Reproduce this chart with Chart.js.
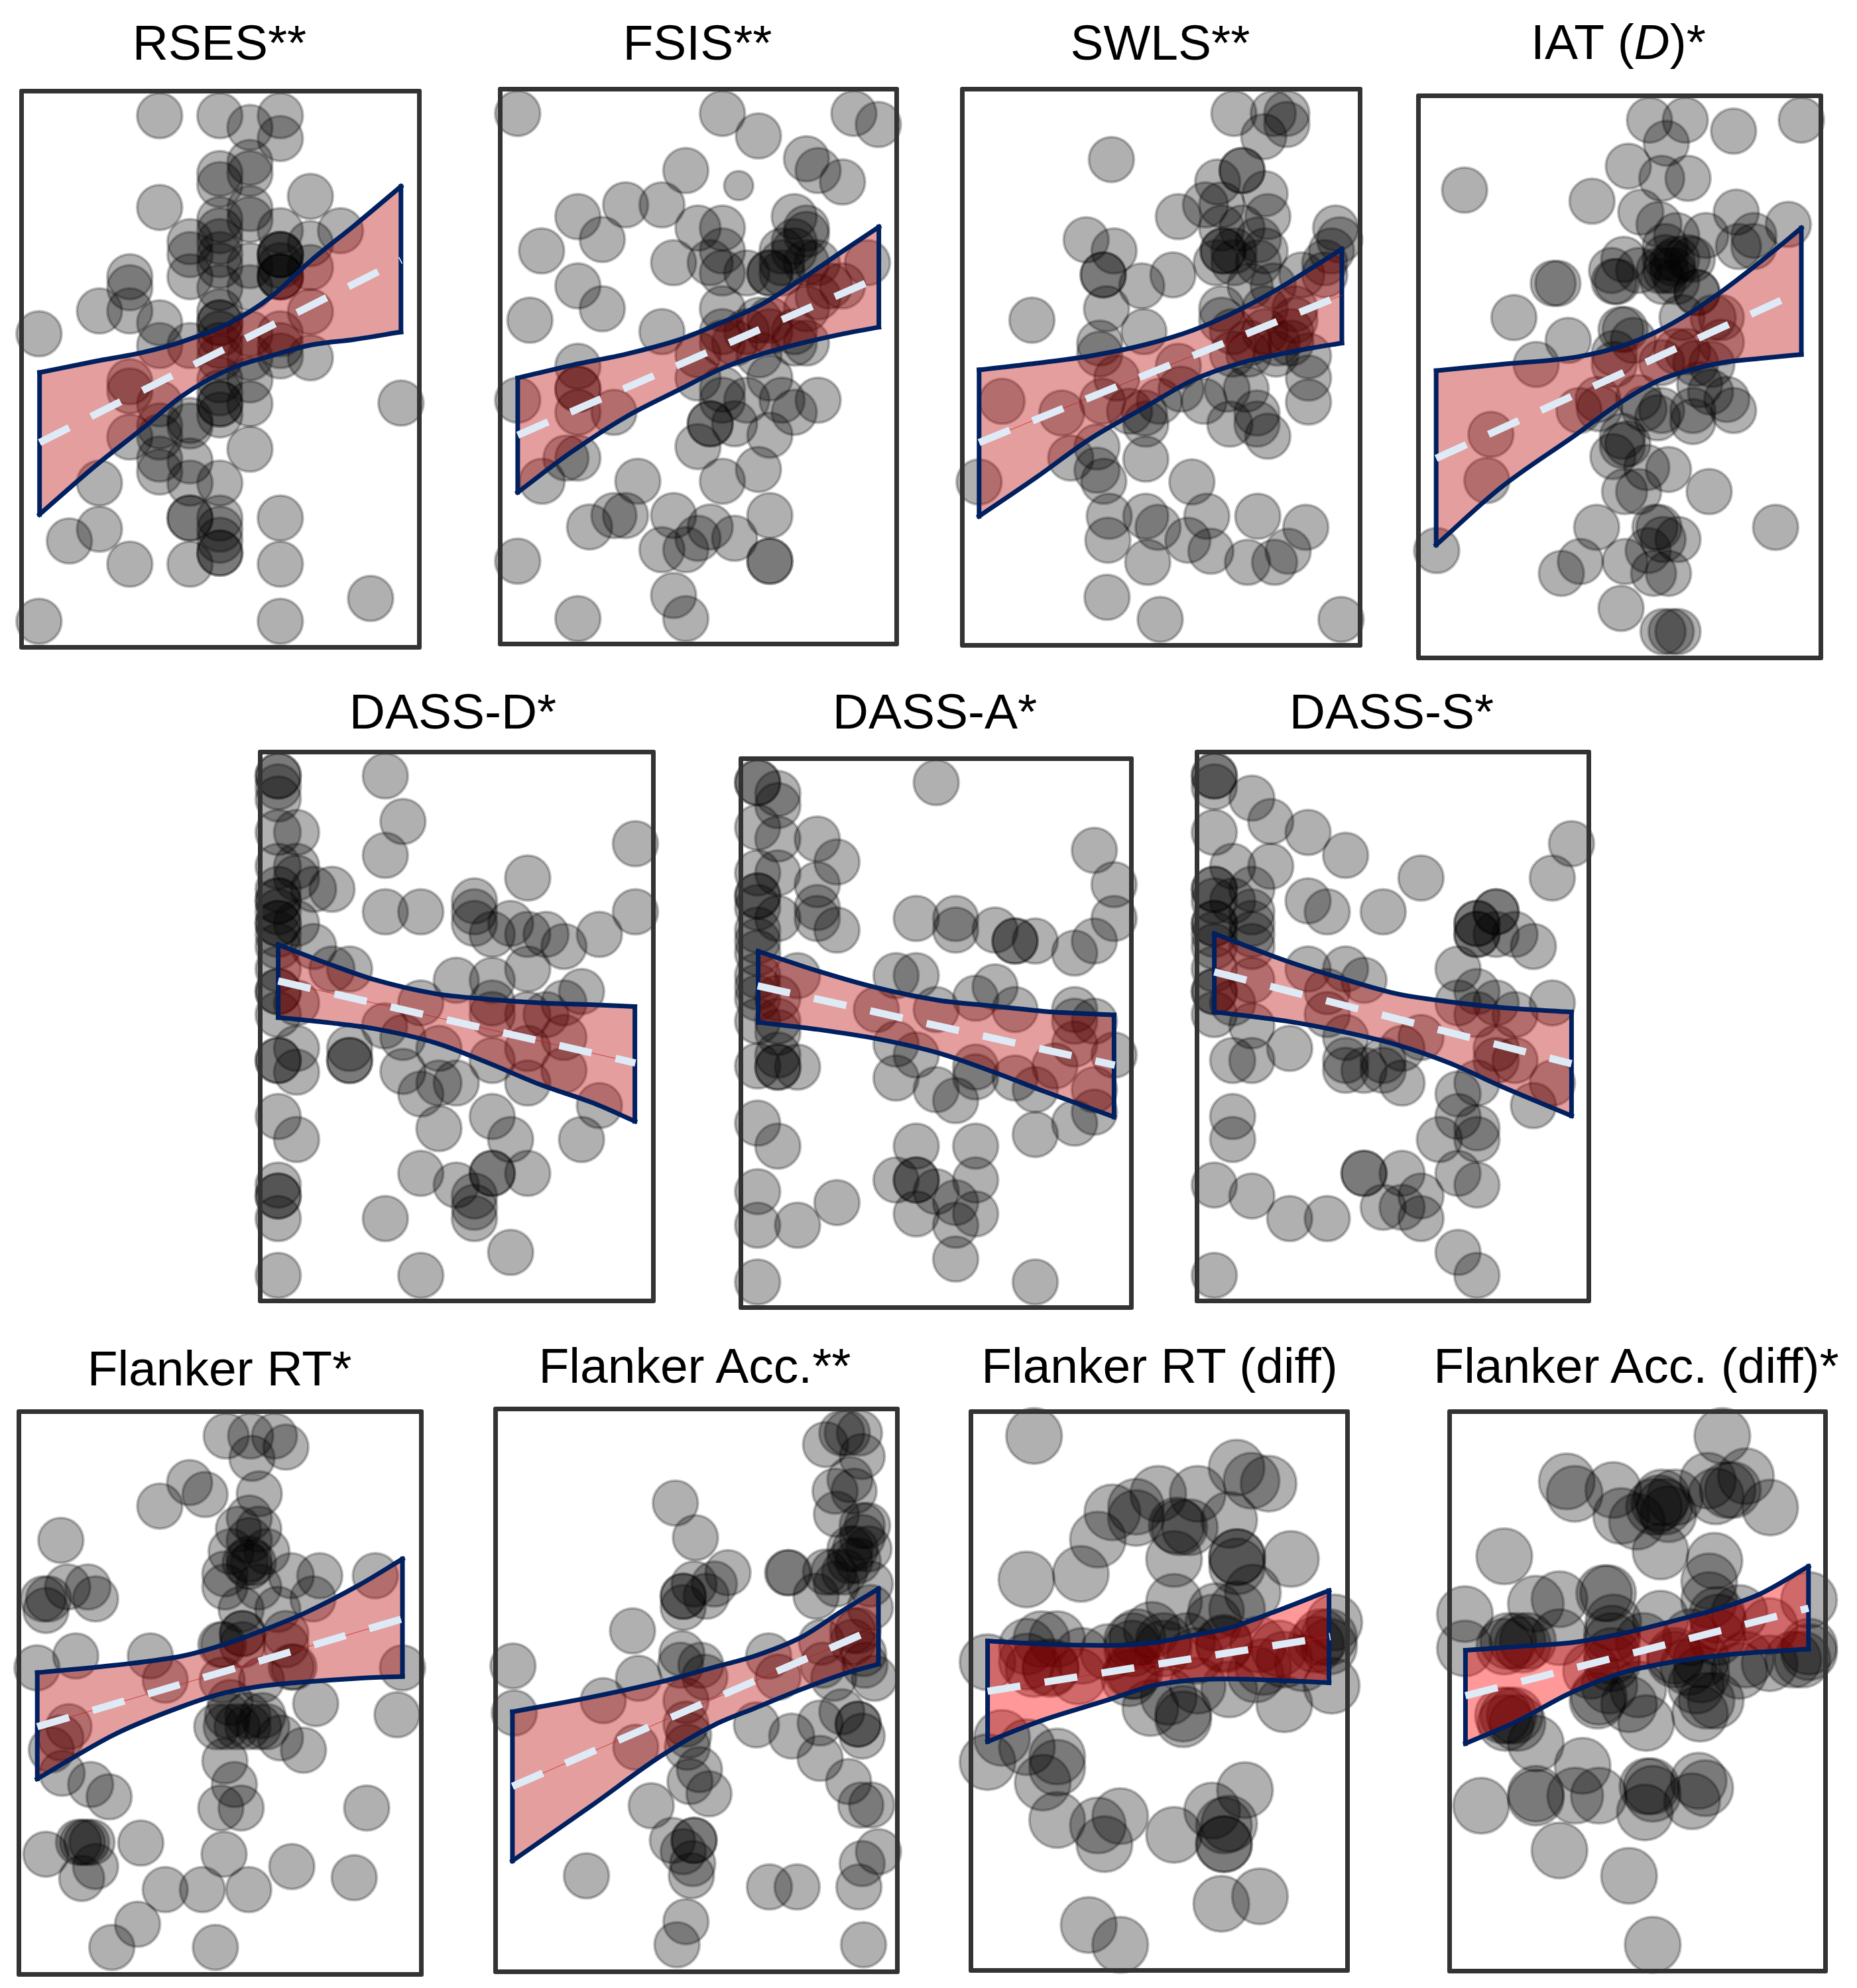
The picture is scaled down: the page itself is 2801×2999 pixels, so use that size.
<html>
<head>
<script src="https://cdn.jsdelivr.net/npm/chart.js"></script>
<style>
body { margin:0; background:white; width:2801px; height:2999px; position:relative; overflow:hidden }
canvas { position:absolute }
.box { position:absolute; border:7px solid #333; border-radius:3px; box-sizing:border-box }
.ttl { position:absolute; font-family:"Liberation Sans",Arial,sans-serif; font-size:75px; color:#000; white-space:nowrap; transform:translate(-50%,-50%) }
</style>
</head>
<body>
<script>
// values, one list per panel. axes run 0-1565 on both sides
rsesPts = [[540,98],[762,98],[873,130],[985,98],[985,160],[762,255],[762,285],[873,225],[873,255],[540,347],[1096,317],[873,350],[873,380],[762,380],[762,410],[762,440],[652,440],[652,475],[652,535],[985,410],[1096,445],[1207,410],[985,475],[985,475],[985,475],[985,505],[985,535],[985,535],[985,535],[1096,510],[762,475],[762,505],[762,565],[873,505],[873,565],[430,535],[430,565],[430,628],[318,628],[540,660],[540,722],[652,722],[95,690],[762,630],[762,660],[762,690],[762,722],[762,660],[873,690],[873,755],[985,690],[985,722],[985,750],[1096,630],[1096,755],[430,820],[430,845],[540,880],[430,970],[540,940],[540,970],[652,925],[652,940],[762,755],[762,815],[762,850],[762,880],[762,880],[762,910],[873,815],[873,880],[873,1003],[1430,878],[540,1030],[540,1065],[652,1035],[652,1095],[762,1095],[318,1095],[652,1190],[652,1190],[762,1190],[762,1220],[762,1250],[762,1285],[762,1285],[985,1190],[318,1220],[207,1252],[430,1315],[652,1315],[985,1315],[1318,1408],[985,1470],[95,1470]]
rsesRibbonX = [97,300,480,620,800,950,1100,1260,1430]
rsesUpper = [795,765,740,712,660,590,490,395,290]
rsesLower = [1180,1050,945,860,785,750,720,705,685]
rsesFit = [[97,985],[1430,490]]

fsisPts = [[100,92],[855,92],[988,153],[1340,92],[1430,122],[1165,215],[1208,247],[1298,278],[720,247],[322,372],[498,340],[632,340],[412,434],[188,465],[765,403],[855,403],[855,465],[810,497],[675,497],[855,525],[945,525],[1120,372],[1165,403],[1165,420],[1120,440],[1120,465],[1075,465],[1165,497],[1205,497],[1075,497],[1030,525],[1030,525],[1075,525],[322,560],[412,622],[145,653],[855,622],[632,684],[990,653],[1030,653],[855,684],[855,715],[765,747],[765,810],[900,715],[945,684],[990,747],[1030,684],[1120,684],[1165,715],[1120,715],[1165,622],[1208,590],[1250,560],[1298,560],[1390,497],[322,778],[322,840],[322,840],[322,903],[100,870],[455,903],[1030,810],[855,840],[855,870],[945,870],[900,934],[810,934],[810,934],[1075,870],[1120,903],[1208,870],[765,996],[1030,965],[855,1090],[988,1058],[278,1027],[322,1027],[190,1090],[543,1090],[455,1183],[498,1183],[365,1214],[675,1183],[810,1214],[765,1245],[900,1245],[632,1276],[720,1276],[1030,1183],[1030,1307],[1030,1307],[100,1307],[675,1400],[720,1463],[322,1463]]
fsisSmallPts = [[915,288]]
fsisRibbonX = [100,300,500,700,850,1000,1150,1300,1432]
fsisUpper = [810,775,745,705,660,610,540,465,400]
fsisLower = [1120,1010,915,840,785,745,715,690,672]
fsisFit = [[100,965],[1432,537]]

swlsPts = [[1030,92],[1175,92],[1225,92],[1225,122],[1140,155],[578,217],[1060,247],[1060,247],[970,278],[1145,310],[925,340],[985,340],[1155,372],[825,372],[985,403],[1060,403],[1120,435],[1145,465],[990,465],[990,465],[1030,465],[1030,497],[965,497],[1120,497],[485,435],[588,465],[548,530],[548,530],[690,560],[805,530],[1090,560],[1175,560],[560,622],[1405,403],[1420,435],[1390,465],[1365,497],[1280,530],[1365,530],[285,653],[985,622],[985,653],[1145,622],[1255,622],[1255,653],[535,715],[535,745],[698,684],[1025,684],[1085,715],[1145,684],[1240,684],[1190,715],[1025,745],[1085,745],[1240,715],[825,778],[598,810],[1185,745],[1305,750],[1305,810],[1305,875],[175,873],[395,905],[545,873],[645,900],[700,905],[755,873],[835,840],[1005,840],[1075,840],[920,873],[1015,935],[1115,905],[1115,935],[1155,968],[705,935],[705,1030],[525,997],[428,1027],[525,1060],[550,1090],[90,1092],[875,1092],[570,1185],[705,1185],[750,1215],[930,1185],[860,1250],[565,1250],[712,1310],[945,1280],[1118,1185],[1295,1215],[1230,1280],[1080,1310],[1180,1310],[562,1405],[758,1465],[1425,1465]]
swlsRibbonX = [90,300,500,700,880,1050,1200,1320,1428]
swlsUpper = [788,770,750,720,680,625,565,510,460]
swlsLower = [1185,1080,975,890,815,770,745,728,715]
swlsFit = [[90,985],[1428,585]]

iatPts = [[900,92],[1032,92],[962,155],[1210,122],[1460,92],[822,217],[945,250],[1042,250],[218,282],[688,312],[868,342],[935,375],[1220,342],[1412,375],[1000,405],[1108,405],[1228,435],[1285,405],[1285,435],[958,435],[958,465],[1040,465],[805,470],[760,500],[860,500],[935,500],[985,480],[985,500],[1000,470],[960,500],[1000,530],[1058,470],[780,530],[770,530],[545,535],[562,535],[1075,560],[1075,560],[950,530],[400,628],[1020,628],[600,690],[795,660],[810,660],[840,690],[770,725],[770,755],[482,755],[1000,720],[1040,720],[1165,628],[1135,628],[1165,695],[1130,755],[1070,752],[945,750],[1085,810],[1125,830],[860,845],[710,850],[640,880],[715,875],[1185,850],[1210,880],[1060,880],[1060,910],[945,880],[880,875],[930,900],[800,950],[820,970],[800,975],[315,945],[300,1070],[765,1005],[890,1035],[970,1040],[1120,1100],[808,1100],[860,1100],[1365,1197],[705,1197],[920,1197],[935,1197],[1005,1230],[950,1230],[895,1260],[645,1290],[810,1290],[575,1322],[915,1322],[970,1322],[115,1260],[795,1417],[950,1480],[1005,1480],[980,1480]]
iatRibbonX = [113,350,630,800,930,1050,1170,1320,1460]
iatUpper = [772,755,735,705,665,615,555,470,385]
iatLower = [1245,1090,945,855,800,770,750,738,728]
iatFit = [[113,1010],[1460,556]]

dassDPts = [[100,92],[100,92],[100,122],[100,155],[100,247],[100,340],[100,403],[100,435],[100,435],[100,465],[100,497],[100,497],[100,527],[100,560],[100,622],[100,684],[100,684],[100,747],[100,873],[100,873],[100,1027],[100,1215],[100,1245],[100,1245],[100,1307],[100,1463],[170,247],[170,340],[170,372],[170,497],[170,715],[170,840],[170,905],[170,1090],[235,403],[305,403],[235,560],[305,622],[372,622],[372,840],[372,873],[372,873],[508,92],[575,217],[508,310],[508,465],[643,465],[847,435],[847,465],[847,497],[1050,372],[1460,278],[1460,465],[915,527],[985,497],[1050,527],[1120,527],[1188,560],[1323,527],[1050,622],[778,653],[915,653],[643,715],[915,715],[915,747],[1050,747],[1120,747],[1188,715],[1255,684],[505,778],[575,810],[712,840],[915,873],[1050,840],[1188,810],[1188,900],[1050,935],[575,903],[643,965],[712,935],[778,935],[712,1060],[915,1027],[985,1090],[1323,997],[1255,1090],[643,1183],[778,1215],[915,1183],[915,1183],[1050,1183],[847,1245],[847,1276],[847,1307],[508,1307],[985,1400],[643,1463]]
dassDRibbonX = [100,300,460,700,900,1100,1300,1458]
dassDUpper = [555,610,650,690,705,715,720,725]
dassDLower = [755,770,785,825,880,940,990,1040]
dassDFit = [[100,655],[1460,880]]

dassAPts = [[108,92],[108,92],[108,215],[108,340],[108,403],[108,403],[108,435],[108,497],[108,527],[108,560],[108,622],[108,653],[108,684],[108,747],[108,870],[108,1027],[108,1215],[108,1307],[108,1463],[185,122],[185,155],[185,247],[185,340],[185,465],[185,684],[185,747],[185,778],[185,840],[185,873],[185,873],[185,1090],[260,622],[260,873],[335,247],[335,372],[335,435],[335,465],[410,310],[410,497],[410,1245],[260,1307],[788,92],[1390,278],[1465,372],[1465,465],[712,465],[862,465],[862,497],[1012,497],[1088,527],[1088,527],[1165,527],[1315,560],[1390,527],[635,622],[712,622],[1012,653],[938,684],[560,715],[788,715],[1088,715],[1315,715],[1315,747],[1390,747],[1315,810],[635,810],[712,840],[635,903],[1465,840],[938,873],[938,900],[1088,903],[1240,870],[1165,935],[788,935],[862,965],[1390,935],[1315,1027],[1390,997],[1165,1058],[712,1090],[938,1090],[635,1183],[712,1183],[712,1183],[788,1215],[938,1183],[862,1245],[712,1276],[938,1276],[862,1307],[862,1400],[1165,1463]]
dassARibbonX = [110,340,560,800,1000,1200,1465]
dassAUpper = [555,610,655,690,705,720,730]
dassALower = [750,770,795,835,885,940,1010]
dassAFit = [[108,650],[1468,868]]

dassSPts = [[105,92],[105,92],[105,122],[105,247],[105,403],[105,403],[105,435],[105,497],[105,497],[105,527],[105,560],[105,622],[105,684],[105,684],[105,747],[105,1215],[105,1463],[175,340],[175,435],[175,715],[175,873],[175,1027],[175,1090],[248,153],[320,217],[320,340],[248,403],[248,465],[248,497],[248,527],[248,560],[248,653],[248,778],[248,873],[248,1245],[462,247],[605,310],[462,435],[535,465],[748,465],[892,372],[1465,278],[1392,372],[1105,497],[1105,497],[1105,527],[1105,527],[1178,465],[1178,465],[1178,527],[1250,527],[1320,560],[462,622],[605,622],[535,684],[675,653],[535,747],[605,810],[392,840],[605,873],[605,900],[675,900],[748,900],[748,873],[820,935],[820,840],[892,810],[1033,622],[1033,715],[1105,684],[1105,747],[1178,715],[1250,747],[1392,715],[1178,840],[1178,873],[1250,873],[1392,935],[1105,935],[1033,965],[1033,1027],[1105,1058],[1105,1090],[962,1090],[1320,997],[1033,1183],[1105,1215],[675,1183],[675,1183],[820,1183],[892,1245],[748,1276],[820,1276],[892,1307],[392,1307],[535,1307],[1033,1400],[1105,1463]]
dassSRibbonX = [105,380,600,800,1000,1200,1465]
dassSUpper = [525,600,650,690,712,728,740]
dassSLower = [740,765,795,830,880,945,1025]
dassSFit = [[105,630],[1465,882]]

flRtPts = [[810,100],[900,100],[988,100],[1030,130],[905,160],[675,225],[732,257],[565,288],[932,255],[200,380],[895,320],[855,350],[930,350],[895,380],[828,410],[960,410],[880,440],[910,440],[895,430],[895,450],[805,470],[805,505],[930,505],[1050,475],[1155,475],[1360,475],[1130,537],[1000,565],[865,565],[135,537],[155,537],[145,568],[225,505],[300,505],[328,537],[870,630],[870,630],[790,660],[800,660],[1030,630],[1030,660],[870,660],[530,690],[255,690],[112,722],[1460,722],[585,755],[795,755],[1050,720],[1060,720],[940,755],[825,815],[1140,818],[1440,848],[230,880],[200,910],[165,942],[205,1005],[310,1035],[378,1068],[1095,943],[1010,910],[775,880],[810,880],[850,880],[890,880],[930,880],[815,850],[890,850],[945,850],[960,880],[805,972],[840,1035],[790,1098],[865,1098],[1328,1098],[280,1190],[265,1190],[295,1190],[315,1190],[495,1192],[145,1222],[328,1255],[277,1287],[802,1222],[1052,1255],[1282,1285],[585,1317],[722,1317],[893,1317],[483,1410],[388,1472],[770,1472]]
flRtRibbonX = [113,400,650,800,950,1100,1300,1460]
flRtUpper = [735,715,690,660,620,575,500,430]
flRtLower = [1020,900,825,790,770,760,750,745]
flRtFit = [[113,880],[1462,590]]

flAccPts = [[1320,92],[1340,92],[1385,92],[1260,123],[1395,155],[1350,217],[1295,248],[1365,248],[1300,310],[1395,340],[1415,340],[1395,372],[1350,403],[1420,403],[1370,403],[1350,435],[1290,465],[1260,465],[1330,465],[1380,435],[1300,497],[1425,497],[1225,530],[1425,560],[706,280],[780,373],[900,467],[775,497],[850,497],[735,530],[735,530],[820,530],[735,560],[1120,467],[1125,467],[548,623],[1360,622],[1380,622],[1360,653],[1400,684],[1245,653],[1250,715],[1405,715],[1440,750],[730,684],[725,715],[800,715],[815,747],[570,750],[440,810],[107,717],[112,843],[745,810],[745,873],[750,935],[1050,690],[1085,747],[1290,750],[755,903],[560,935],[1005,875],[1135,905],[1240,870],[1320,840],[1380,873],[1380,873],[1395,905],[1240,965],[795,995],[760,1027],[830,1060],[617,1092],[1345,1027],[1390,1090],[1430,1090],[775,1185],[775,1185],[695,1185],[735,1215],[770,1247],[765,1280],[378,1280],[1053,1310],[1155,1310],[1395,1247],[1455,1215],[1383,1310],[745,1403],[712,1465],[1400,1465]]
flAccRibbonX = [105,400,650,850,1000,1170,1320,1455]
flAccUpper = [840,800,760,720,690,640,570,510]
flAccLower = [1240,1090,960,875,830,780,740,712]
flAccFit = [[105,1040],[1455,613]]

flRtDiffPts = [[277,100],[1048,185],[1105,220],[1170,228],[750,255],[900,255],[575,305],[665,290],[665,320],[520,378],[820,340],[870,345],[830,345],[1020,325],[810,430],[1050,425],[1050,425],[1050,450],[1255,430],[248,485],[455,470],[1110,520],[810,545],[970,570],[1050,565],[960,600],[725,620],[100,707],[250,665],[305,645],[365,645],[460,690],[250,705],[275,725],[340,725],[560,680],[445,745],[340,720],[650,650],[670,640],[650,670],[770,650],[650,730],[660,730],[770,670],[860,650],[890,690],[640,750],[1000,655],[1000,660],[1130,660],[1210,670],[1120,740],[1230,700],[1420,600],[1350,660],[1400,640],[1400,665],[1300,710],[1370,640],[790,800],[720,830],[845,845],[900,770],[845,860],[1020,780],[1230,820],[1410,770],[1150,720],[155,910],[250,935],[100,975],[365,960],[365,990],[310,1030],[365,1130],[520,1145],[605,1120],[545,1195],[810,1170],[955,1105],[1080,1050],[1000,1145],[1020,1140],[1000,1195],[1000,1195],[990,1355],[1137,1335],[485,1412],[605,1465]]
flRtDiffRibbonX = [100,300,550,730,880,1020,1180,1400]
flRtDiffUpper = [650,658,662,655,635,615,575,515]
flRtDiffLower = [920,865,810,770,755,752,755,762]
flRtDiffFit = [[100,785],[1405,638]]

flAccDiffPts = [[1080,100],[488,222],[518,255],[665,245],[695,315],[755,330],[850,265],[900,265],[860,290],[820,290],[840,280],[1025,220],[1170,208],[1055,262],[1100,245],[1120,245],[1262,292],[845,410],[875,310],[1050,435],[250,423],[100,578],[370,550],[460,538],[630,522],[645,522],[1030,490],[1030,540],[845,590],[665,600],[660,630],[100,670],[265,650],[300,650],[320,660],[250,665],[340,650],[460,640],[660,650],[1060,580],[1145,575],[1260,610],[1410,540],[1065,600],[580,730],[660,690],[660,710],[780,650],[900,690],[960,640],[1060,640],[1000,700],[1170,700],[1260,710],[1410,665],[1410,680],[1385,700],[1350,700],[950,720],[1000,740],[900,700],[980,770],[650,770],[610,800],[605,810],[725,820],[760,780],[790,870],[995,845],[1020,810],[1055,810],[1145,730],[265,850],[290,850],[245,850],[300,870],[255,870],[370,925],[548,985],[370,1060],[370,1070],[520,1065],[610,1065],[162,1092],[795,1040],[810,1040],[815,1060],[785,1110],[990,1025],[1015,1045],[965,1080],[460,1212],[725,1280],[815,1465]]
flAccDiffRibbonX = [102,300,500,700,900,1060,1220,1408]
flAccDiffUpper = [675,665,655,630,595,565,525,450]
flAccDiffLower = [925,865,790,735,705,690,680,672]
flAccDiffFit = [[102,797],[1408,562]]

// page layout: crop = area the axes span, box = frame edges, t = title centre
panels = [
 {title:"RSES**", pts:rsesPts, rx:rsesRibbonX, up:rsesUpper, lo:rsesLower, fit:rsesFit, crop:[20,120,640,870], box:[32,137,632,976], t:[331,64], r:34, red:"rgba(184,0,0,.38)"},
 {title:"FSIS**", pts:fsisPts, small:fsisSmallPts, rx:fsisRibbonX, up:fsisUpper, lo:fsisLower, fit:fsisFit, crop:[740,120,640,870], box:[754,134,1352,971], t:[1052,64], r:34, red:"rgba(184,0,0,.38)"},
 {title:"SWLS**", pts:swlsPts, rx:swlsRibbonX, up:swlsUpper, lo:swlsLower, fit:swlsFit, crop:[1440,120,640,870], box:[1451,134,2051,973], t:[1750,64], r:34, red:"rgba(184,0,0,.38)", hair:true},
 {title:"IAT (<i>D</i>)*", pts:iatPts, rx:iatRibbonX, up:iatUpper, lo:iatLower, fit:iatFit, crop:[2120,130,640,870], box:[2139,144,2746,992], t:[2441,63], r:34, red:"rgba(184,0,0,.38)"},
 {title:"DASS-D*", pts:dassDPts, rx:dassDRibbonX, up:dassDUpper, lo:dassDLower, fit:dassDFit, crop:[380,1120,620,860], box:[392,1134,985,1962], t:[683,1073], r:34, red:"rgba(184,0,0,.38)", hair:true},
 {title:"DASS-A*", pts:dassAPts, rx:dassARibbonX, up:dassAUpper, lo:dassALower, fit:dassAFit, crop:[1100,1130,620,860], box:[1117,1144,1706,1972], t:[1410,1073], r:34, red:"rgba(184,0,0,.38)"},
 {title:"DASS-S*", pts:dassSPts, rx:dassSRibbonX, up:dassSUpper, lo:dassSLower, fit:dassSFit, crop:[1790,1120,620,860], box:[1805,1134,2396,1962], t:[2099,1073], r:34, red:"rgba(184,0,0,.38)"},
 {title:"Flanker RT*", pts:flRtPts, rx:flRtRibbonX, up:flRtUpper, lo:flRtLower, fit:flRtFit, crop:[10,2110,640,880], box:[28,2129,635,2978], t:[331,2064], r:34, red:"rgba(184,0,0,.38)", hair:true},
 {title:"Flanker Acc.**", pts:flAccPts, rx:flAccRibbonX, up:flAccUpper, lo:flAccLower, fit:flAccFit, crop:[730,2110,640,880], box:[747,2125,1353,2974], t:[1048,2060], r:34, red:"rgba(184,0,0,.38)", hair:true},
 {title:"Flanker RT (diff)", pts:flRtDiffPts, rx:flRtDiffRibbonX, up:flRtDiffUpper, lo:flRtDiffLower, fit:flRtDiffFit, crop:[1450,2110,620,880], box:[1464,2129,2032,2972], t:[1749,2060], r:42, red:"rgba(255,0,0,.4)", hair:true},
 {title:"Flanker Acc. (diff)*", pts:flAccDiffPts, rx:flAccDiffRibbonX, up:flAccDiffUpper, lo:flAccDiffLower, fit:flAccDiffFit, crop:[2170,2110,620,880], box:[2186,2129,2753,2973], t:[2468,2060], r:42, red:"rgba(255,0,0,.4)"}
]

navy = "#002060"
pad = 50

function xy(pairs) { return pairs.map(p => ({x:p[0], y:p[1]})) }
function curve(xs, ys) { return xs.map((x,i) => ({x:x, y:ys[i]})) }
function edge(color, data) {
  return {type:"line", data:data, borderColor:color, borderWidth:7, borderCapStyle:"square", pointRadius:0, fill:false, clip:false}
}

panels.forEach(p => {
  c = document.createElement("canvas")
  c.width = p.crop[2] + pad*2
  c.height = p.crop[3] + pad*2
  c.style.left = (p.crop[0]-pad) + "px"
  c.style.top = (p.crop[1]-pad) + "px"
  document.body.appendChild(c)

  last = p.rx.length-1
  upper = curve(p.rx, p.up)
  lower = curve(p.rx, p.lo)
  ds = []
  // first dataset ends up on top
  ds.push({type:"line", data:xy(p.fit), borderColor:"#deebf7", borderWidth:11, borderDash:[50,37], pointRadius:0, fill:false, clip:false})
  if (p.hair) ds.push({type:"line", data:xy(p.fit), borderColor:"rgba(200,20,20,.7)", borderWidth:1, pointRadius:0, fill:false, clip:false})
  up = edge(navy, upper); up.cubicInterpolationMode = "monotone"
  lo = edge(navy, lower); lo.cubicInterpolationMode = "monotone"
  ds.push(up, lo)
  ds.push(edge(navy, [upper[0], lower[0]]), edge(navy, [upper[last], lower[last]]))
  ds.push({type:"line", data:upper, borderWidth:0, pointRadius:0, cubicInterpolationMode:"monotone", backgroundColor:p.red, fill:"+1", clip:false})
  ds.push({type:"line", data:lower, borderWidth:0, pointRadius:0, cubicInterpolationMode:"monotone", fill:false, clip:false})
  circle = {backgroundColor:"rgba(0,0,0,.31)", borderColor:"rgba(0,0,0,.25)", borderWidth:4, clip:false}
  if (p.small) ds.push(Object.assign({type:"scatter", data:xy(p.small), pointRadius:22}, circle))
  ds.push(Object.assign({type:"scatter", data:xy(p.pts), pointRadius:p.r}, circle))

  new Chart(c, {
    type:"line",
    data:{datasets:ds},
    options:{
      responsive:false, animation:false, devicePixelRatio:1,
      layout:{padding:pad},
      plugins:{legend:{display:false}, tooltip:{enabled:false}},
      scales:{
        x:{type:"linear", min:0, max:1565, display:false},
        y:{type:"linear", min:0, max:1565, reverse:true, display:false}
      }
    }
  })

  b = document.createElement("div")
  b.className = "box"
  b.style.left = (p.box[0]-3) + "px"
  b.style.top = (p.box[1]-3) + "px"
  b.style.width = (p.box[2]-p.box[0]+7) + "px"
  b.style.height = (p.box[3]-p.box[1]+7) + "px"
  document.body.appendChild(b)

  t = document.createElement("div")
  t.className = "ttl"
  t.style.left = p.t[0] + "px"
  t.style.top = p.t[1] + "px"
  t.innerHTML = p.title
  document.body.appendChild(t)
})
</script>
</body>
</html>
